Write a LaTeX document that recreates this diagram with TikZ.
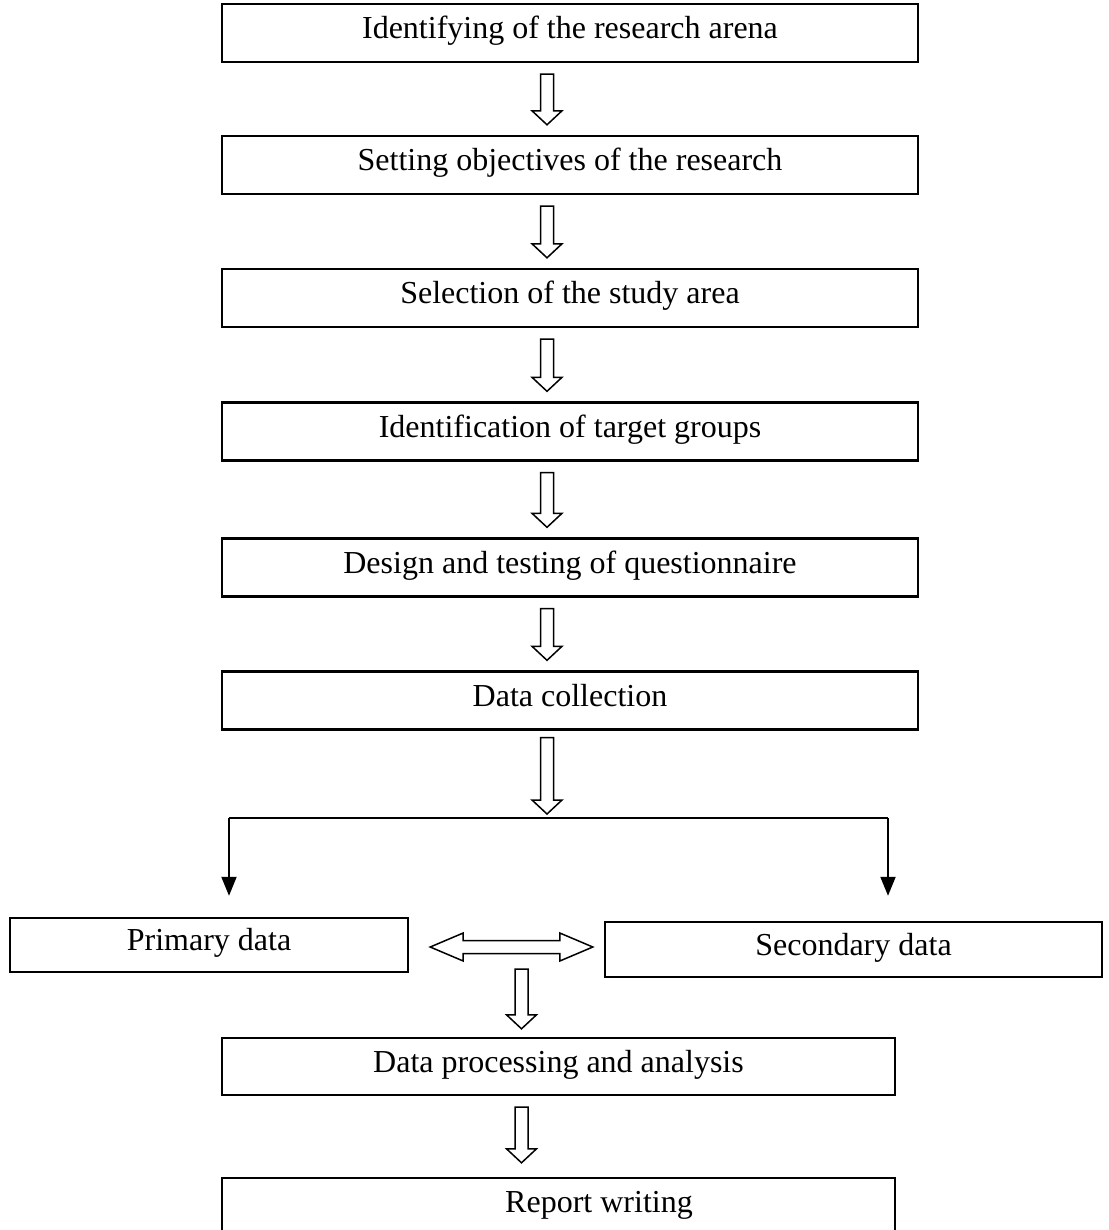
\documentclass[tikz,border=0pt]{standalone}
\usepackage{fontspec}
\setmainfont{Liberation Serif}
\usetikzlibrary{calc,arrows.meta}
\tikzset{
  stepbox/.style={draw, line width=2.4pt, inner sep=0pt, text height=22pt, text depth=11pt,
    font=\fontsize{32}{38}\selectfont},
  harrow/.style={draw, line width=1.5pt, fill=white, line join=miter},
  split/.style={line width=2pt},
  splitarrow/.style={line width=2pt, -{Triangle[width=15pt,length=19pt]}}
}
\newcommand\hdown[2]{%
  \draw[harrow] let \p1=#1, \p2=#2 in
    (\x1-6.5pt,\y1) -- (\x1-6.5pt,\y2+14pt) -- (\x1-15pt,\y2+14pt) -- (\x1,\y2)
    -- (\x1+15pt,\y2+14pt) -- (\x1+6.5pt,\y2+14pt) -- (\x1+6.5pt,\y1) -- cycle;}
\begin{document}
\begin{tikzpicture}[x=1pt,y=-1pt]
\useasboundingbox (0,0) rectangle (1108,1230);
\coordinate (cx) at (547,0);
\coordinate (cy) at (521.5,0);
\node[stepbox, minimum width=696pt, minimum height=58pt] (b1) at (570,33) {Identifying of the research arena};
\node[stepbox, minimum width=696pt, minimum height=58pt] (b2) at (570,165) {Setting objectives of the research};
\node[stepbox, minimum width=696pt, minimum height=58pt] (b3) at (570,298) {Selection of the study area};
\node[stepbox, minimum width=696pt, minimum height=58pt] (b4) at (570,431.5) {Identification of target groups};
\node[stepbox, minimum width=696pt, minimum height=58pt] (b5) at (570,567.5) {Design and testing of questionnaire};
\node[stepbox, minimum width=696pt, minimum height=58pt] (b6) at (570,700.5) {Data collection};
\node[stepbox, minimum width=398pt, minimum height=54pt] (prim) at (209,945) {Primary data};
\node[stepbox, minimum width=497pt, minimum height=55pt] (sec) at (853.5,949.5) {Secondary data};
\node[stepbox, minimum width=673pt, minimum height=57pt] (dp) at (558.5,1066.5) {Data processing and analysis};
\node[stepbox, minimum width=673pt, minimum height=58pt] (rw) at (558.5,1207) {\hspace*{81pt}Report writing};

\hdown{($(b1.south -| cx)+(0,11)$)}{($(b2.north -| cx)+(0,-10)$)}
\hdown{($(b2.south -| cx)+(0,11)$)}{($(b3.north -| cx)+(0,-10)$)}
\hdown{($(b3.south -| cx)+(0,11)$)}{($(b4.north -| cx)+(0,-10)$)}
\hdown{($(b4.south -| cx)+(0,11)$)}{($(b5.north -| cx)+(0,-10)$)}
\hdown{($(b5.south -| cx)+(0,11)$)}{($(b6.north -| cx)+(0,-10)$)}

\coordinate (sl) at (229,818);
\coordinate (sr) at (888,818);
\coordinate (sm) at (sl -| cx);
\hdown{($(b6.south -| cx)+(0,7)$)}{($(sm)+(0,-4)$)}
\coordinate (pl) at ($(sl |- prim.north)+(0,-21)$);
\coordinate (pr) at ($(sr |- prim.north)+(0,-21)$);
\draw[split] (sl) -- (sr);
\draw[splitarrow] (sl) -- (pl);
\draw[splitarrow] (sr) -- (pr);

\coordinate (dl) at ($(prim.east)+(21,2)$);
\coordinate (dr) at ($(sec.west)+(-11,-2.5)$);
\draw[harrow] let \p1=(dl), \p2=(dr) in
  (\x1,\y1) -- (\x1+33pt,\y1+14pt) -- (\x1+33pt,\y1+6.5pt) -- (\x2-33pt,\y1+6.5pt)
  -- (\x2-33pt,\y1+14pt) -- (\x2,\y1) -- (\x2-33pt,\y1-14pt) -- (\x2-33pt,\y1-6.5pt)
  -- (\x1+33pt,\y1-6.5pt) -- (\x1+33pt,\y1-14pt) -- cycle;

\coordinate (dd) at (521.5,969);
\hdown{(dd)}{($(dp.north -| cy)+(0,-8)$)}
\hdown{($(dp.south -| cy)+(0,11)$)}{($(rw.north -| cy)+(0,-14)$)}
\end{tikzpicture}
\end{document}
